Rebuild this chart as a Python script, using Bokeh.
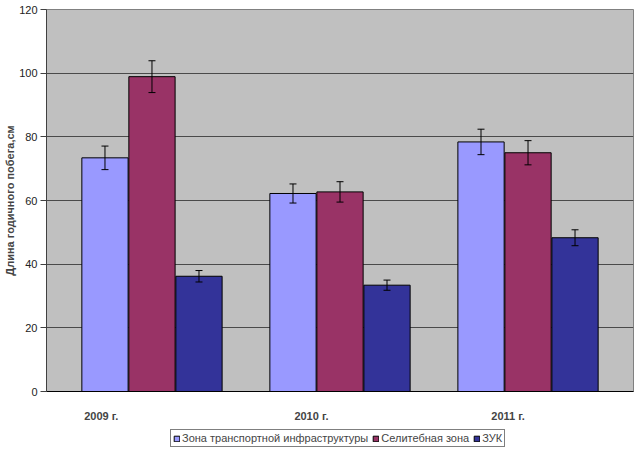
from bokeh.plotting import figure
from bokeh.layouts import column
from bokeh.models import (ColumnDataSource, Range1d, FixedTicker, Whisker, TeeHead,
                          Legend, LegendItem)
from bokeh.embed import file_html
from bokeh.resources import INLINE

years = ["2009 г.", "2010 г.", "2011 г."]
series_names = ["Зона транспортной инфраструктуры", "Селитебная зона", "ЗУК"]
transport = [73.4, 62.2, 78.4]
transport_err = [3.7, 3.0, 4.0]
residential = [98.9, 62.7, 75.0]
residential_err = [5.0, 3.2, 3.8]
zuk = [36.2, 33.4, 48.3]
zuk_err = [1.8, 1.6, 2.5]
y_ticks = [0, 20, 40, 60, 80, 100, 120]
label_positions = [0.23, 1.348, 2.394]

colors = ["#9999FF", "#993366", "#333399"]
offsets = [-0.25, 0.0, 0.25]
FONT = "Liberation Sans"

p = figure(width=634, height=424, output_backend="svg", toolbar_location=None,
           x_range=Range1d(-0.061, 3.061), y_range=Range1d(0, 120),
           min_border_left=46, min_border_right=1, min_border_top=9,
           min_border_bottom=33)
p.background_fill_color = "#c0c0c0"
p.border_fill_color = "white"
p.outline_line_color = "#808080"

# legend strip below the chart
lg = figure(width=634, height=24, output_backend="svg", toolbar_location=None,
            x_axis_type=None, y_axis_type=None,
            x_range=Range1d(0, 1), y_range=Range1d(0, 1),
            min_border=0, min_border_left=0, min_border_right=0,
            min_border_top=0, min_border_bottom=0)
lg.outline_line_color = None
lg.background_fill_color = "white"
lg.xgrid.visible = False
lg.ygrid.visible = False

items = []
for name, vals, errs, col, off in zip(series_names,
                                      [transport, residential, zuk],
                                      [transport_err, residential_err, zuk_err],
                                      colors, offsets):
    xs = [i + 0.5 + off for i in range(len(years))]
    src = ColumnDataSource(dict(
        x=xs, top=vals,
        upper=[v + e for v, e in zip(vals, errs)],
        lower=[v - e for v, e in zip(vals, errs)]))
    p.vbar(x="x", top="top", width=0.246, bottom=0, source=src,
           fill_color=col, line_color="black", line_width=1)
    w = Whisker(base="x", upper="upper", lower="lower", source=src,
                level="overlay", line_color="black", line_width=1,
                upper_head=TeeHead(size=7, line_color="black", line_width=1),
                lower_head=TeeHead(size=7, line_color="black", line_width=1))
    p.add_layout(w)
    # legend proxy (hidden, shares the series data)
    proxy = lg.vbar(x="x", top="top", width=0.246, bottom=0, source=src,
                    fill_color=col, line_color="black", line_width=1, visible=False)
    items.append(LegendItem(label=name, renderers=[proxy]))

# grid
p.xgrid.grid_line_color = None
p.ygrid.ticker = FixedTicker(ticks=[20, 40, 60, 80, 100])
p.ygrid.grid_line_color = "#4a4a4a"
p.ygrid.grid_line_width = 1

# y axis
p.yaxis.ticker = FixedTicker(ticks=y_ticks)
p.yaxis.axis_label = "Длина годичного побега,см"
p.yaxis.axis_label_text_font = FONT
p.yaxis.axis_label_text_font_size = "11px"
p.yaxis.axis_label_text_font_style = "bold"
p.yaxis.axis_label_standoff = 0
p.yaxis.major_label_text_font = FONT
p.yaxis.major_label_text_font_size = "11px"
p.yaxis.major_label_text_color = "#222222"
p.yaxis.major_label_standoff = 3
p.yaxis.major_tick_out = 6
p.yaxis.major_tick_in = 0
p.yaxis.minor_tick_line_color = None
p.yaxis.axis_line_color = "#404040"
p.yaxis.major_tick_line_color = "#404040"

# x axis
p.xaxis.ticker = FixedTicker(ticks=label_positions)
p.xaxis.major_label_overrides = {pos: lab for pos, lab in zip(label_positions, years)}
p.xaxis.major_label_text_font = FONT
p.xaxis.major_label_text_font_size = "11px"
p.xaxis.major_label_text_font_style = "bold"
p.xaxis.major_label_standoff = 18
p.xaxis.major_tick_line_color = None
p.xaxis.minor_tick_line_color = None
p.xaxis.major_tick_out = 0
p.xaxis.major_tick_in = 0
p.xaxis.axis_line_color = "black"

legend = Legend(items=items, orientation="horizontal", location=(124, 1),
                click_policy="none", inactive_fill_alpha=0,
                border_line_color="black", border_line_width=1,
                background_fill_color="white", background_fill_alpha=1,
                label_text_font=FONT, label_text_font_size="11px",
                glyph_width=7, glyph_height=7, label_height=11,
                label_standoff=2, spacing=4, padding=2, margin=0)
lg.add_layout(legend, "center")

layout = column(p, lg, spacing=0)
open("out.html", "w").write(file_html(layout, INLINE))
